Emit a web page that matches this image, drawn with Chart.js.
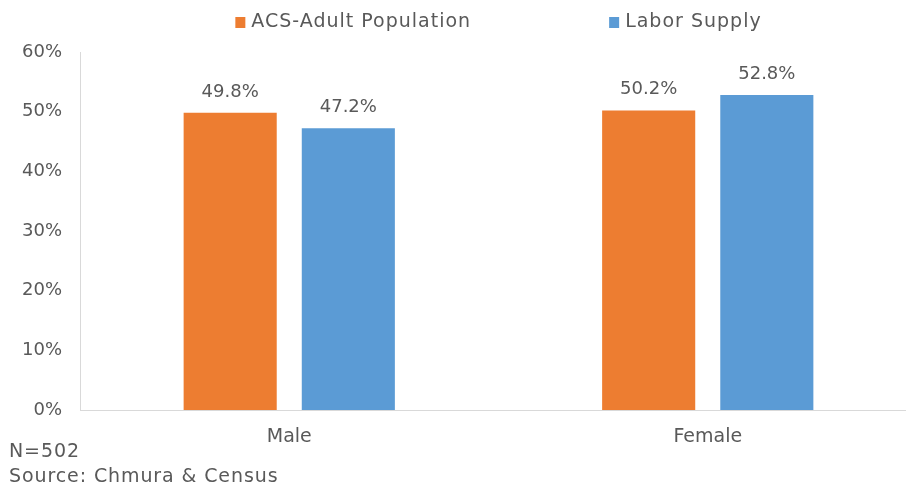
<!DOCTYPE html>
<html>
<head>
<meta charset="utf-8">
<script src="https://cdn.jsdelivr.net/npm/chart.js@4/dist/chart.umd.min.js"></script>
<style>
  html, body { margin: 0; padding: 0; background: #ffffff; overflow: hidden; }
  #wrap { position: relative; width: 906px; height: 487px; overflow: hidden; }
  #c { position: absolute; left: 0; top: 0; }
  .note { position: absolute; left: 9px; font-family: "DejaVu Sans", sans-serif; font-size: 19px; letter-spacing: 0.9px; color: #595959; white-space: nowrap; line-height: 1; }
</style>
</head>
<body>
<div id="wrap">
  <canvas id="c" width="917" height="487" style="width:917px;height:487px"></canvas>
  <div class="note" style="top:441px">N=502</div>
  <div class="note" style="top:466px">Source: Chmura &amp; Census</div>
</div>
<script>
const categories = ["Male", "Female"];
const seriesNames = ["ACS-Adult Population", "Labor Supply"];
const acsAdultPopulation = [49.8, 50.2];
const laborSupply = [47.2, 52.8];
const yTicks = [0, 10, 20, 30, 40, 50, 60];

const FONT = '"DejaVu Sans", sans-serif';
const TEXT = '#595959';
const colors = ['#ED7D31', '#5B9BD5'];

const valueLabels = {
  id: 'valueLabels',
  afterDatasetsDraw(chart) {
    const ctx = chart.ctx;
    ctx.save();
    ctx.font = '18px ' + FONT;
    ctx.fillStyle = TEXT;
    ctx.textAlign = 'center';
    ctx.textBaseline = 'middle';
    chart.data.datasets.forEach((ds, i) => {
      chart.getDatasetMeta(i).data.forEach((bar, j) => {
        ctx.fillText(ds.data[j].toFixed(1) + '%', bar.x, bar.y - 21);
      });
    });
    ctx.restore();
  }
};

const topLegend = {
  id: 'topLegend',
  afterDraw(chart) {
    const ctx = chart.ctx;
    ctx.save();
    ctx.font = '19px ' + FONT;
    if ('letterSpacing' in ctx) ctx.letterSpacing = '1px';
    ctx.textBaseline = 'middle';
    const box = 10, gapText = 6, gapItem = 138;
    const items = chart.data.datasets.map(ds => ({ text: ds.label, color: ds.backgroundColor, w: ctx.measureText(ds.label).width }));
    let total = 0;
    items.forEach((it, i) => { total += box + gapText + it.w + (i < items.length - 1 ? gapItem : 0); });
    const area = chart.chartArea;
    let x = (area.left + area.right) / 2 - total / 2;
    const y = 22;
    items.forEach(it => {
      ctx.fillStyle = it.color;
      ctx.fillRect(x, y - 5, box, box + 1);
      x += box + gapText;
      ctx.fillStyle = TEXT;
      ctx.textAlign = 'left';
      ctx.fillText(it.text, x, y);
      x += it.w + gapItem;
    });
    ctx.restore();
  }
};

new Chart(document.getElementById('c'), {
  type: 'bar',
  data: {
    labels: categories,
    datasets: [
      { label: seriesNames[0], data: acsAdultPopulation, backgroundColor: colors[0], borderWidth: 0 },
      { label: seriesNames[1], data: laborSupply, backgroundColor: colors[1], borderWidth: 0 }
    ]
  },
  options: {
    responsive: false,
    animation: false,
    devicePixelRatio: 1,
    categoryPercentage: 0.5646,
    barPercentage: 0.788,
    layout: { padding: { top: 52, right: 0, bottom: 0, left: 0 } },
    plugins: {
      legend: { display: false },
      tooltip: { enabled: false }
    },
    scales: {
      x: {
        grid: { display: false, drawTicks: false },
        border: { display: true, color: '#d9d9d9', width: 1 },
        ticks: { font: { family: FONT, size: 19 }, color: TEXT, padding: 16 },
        afterFit(scale) { scale.height = 77; }
      },
      y: {
        min: 0,
        max: 60,
        afterBuildTicks(scale) { scale.ticks = yTicks.map(v => ({ value: v })); },
        grid: { display: false, drawTicks: false },
        border: { display: true, color: '#d9d9d9', width: 1 },
        ticks: { font: { family: FONT, size: 18 }, color: TEXT, padding: 18, callback: v => v + '%' },
        afterFit(scale) { scale.width = 80; }
      }
    }
  },
  plugins: [valueLabels, topLegend]
});
</script>
</body>
</html>
